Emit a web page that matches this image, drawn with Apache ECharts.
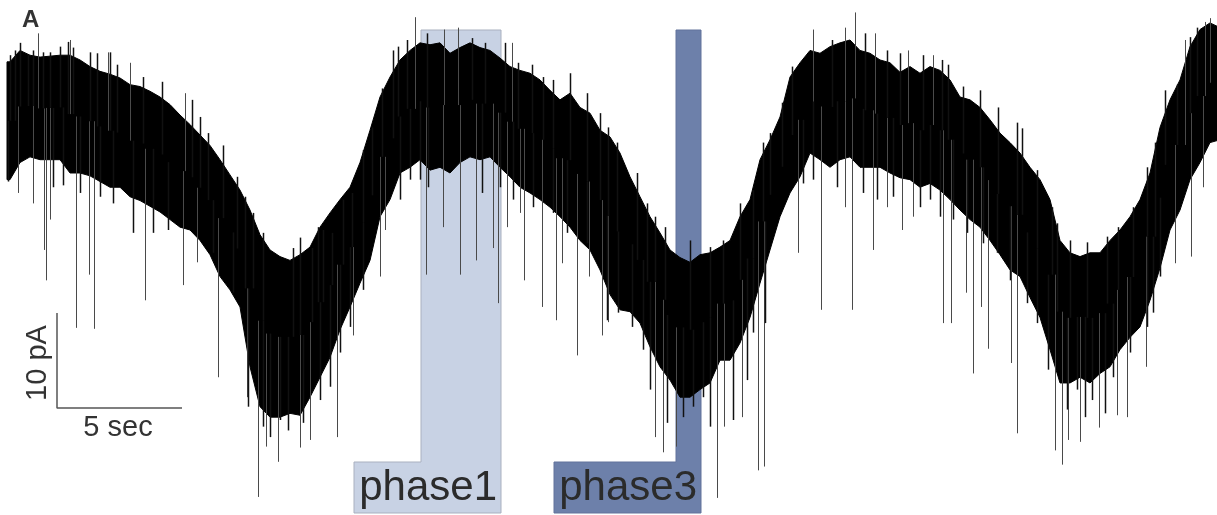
<!DOCTYPE html>
<html><head><meta charset="utf-8">
<script src="https://cdn.jsdelivr.net/npm/echarts@6/dist/echarts.min.js"></script>
<style>html,body{margin:0;padding:0;background:#fff}#c{width:1217px;height:515px}</style>
</head><body><div id="c"></div>
<script>
// Time of envelope samples (s)
const envTime = [-0.12,0,0.4,0.8,1.2,1.6,2,2.4,2.8,3.2,3.6,4,4.4,4.8,5.2,5.6,6,6.4,6.8,7.2,7.6,8,8.4,8.8,9.2,9.6,10,10.4,10.8,11.2,11.6,12,12.4,12.8,13.2,13.6,14,14.4,14.8,15.2,15.6,16,16.4,16.8,17.2,17.6,18,18.4,18.8,19.2,19.6,20,20.4,20.8,21.2,21.6,22,22.4,22.8,23.2,23.6,24,24.4,24.8,25.2,25.6,26,26.4,26.8,27.2,27.6,28,28.4,28.8,29.2,29.6,30,30.4,30.8,31.2,31.6,32,32.4,32.8,33.2,33.6,34,34.4,34.8,35.2,35.6,36,36.4,36.8,37.2,37.6,38,38.4,38.8,39.2,39.6,40,40.4,40.8,41.2,41.6,42,42.4,42.8,43.2,43.6,44,44.4,44.8,45.2,45.6,46,46.4,46.8,47.2,47.6,48,48.4];
// Upper edge of the dense noisy current band (pA)
const envHigh = [47.7,47.7,48.9,48.4,48.2,48.3,48.4,48.4,47.9,47.2,46.7,
46.4,46.0,45.3,45.1,44.6,44.0,43.2,42.1,41.1,40.0,
38.9,37.4,35.8,34.2,32.1,29.5,27.9,27.2,26.8,27.4,
28.2,30.3,31.8,33.2,34.5,37.1,40.5,44.0,46.1,47.9,
48.9,49.7,49.5,49.7,48.6,49.2,49.7,49.2,48.9,48.1,
47.2,46.8,46.5,45.8,44.7,43.7,44.4,42.9,42.3,40.5,
39.8,38.1,35.6,33.5,31.4,29.7,27.9,27.1,26.6,27.4,
27.6,28.2,28.9,31.4,33.2,37.4,39.5,41.9,46.1,47.6,
48.9,48.6,49.3,49.7,50.0,48.9,48.6,47.9,47.6,46.6,
47.2,46.5,47.2,46.8,45.8,44.0,43.7,42.9,41.6,40.2,
39.2,38.1,36.6,35.3,33.2,28.9,27.6,27.2,27.6,27.6,
28.9,30.0,31.4,33.2,36.0,40.8,43.7,45.8,49.3,51.1,
51.8,51.3];
// Lower edge of the dense noisy current band (pA)
const envLow = [35.3,35.3,37.1,37.7,37.4,37.4,37.4,36.0,36.0,35.7,35.1,
34.5,34.5,33.5,33.1,32.5,31.9,31.1,30.3,30.0,28.9,
27.4,25.1,23.7,21.9,15.6,11.4,10.3,10.3,10.7,10.5,
12.4,14.5,16.6,19.5,21.9,24.4,26.8,31.4,33.2,36.0,
36.6,37.4,36.3,36.6,36.0,37.1,37.7,37.4,37.7,36.6,
35.6,34.5,33.9,33.2,32.4,31.4,30.3,28.9,27.9,25.8,
23.2,21.6,21.4,20.2,17.7,15.6,14.2,12.4,12.4,13.2,
13.9,16.3,16.3,18.1,20.8,24.4,27.9,31.4,33.9,35.6,
38.1,37.4,36.6,37.4,37.7,36.6,36.6,36.6,36.0,35.5,
35.3,34.5,34.9,34.2,33.2,32.1,31.1,30.3,28.9,27.4,
25.8,25.1,22.9,20.8,17.4,13.9,13.9,14.5,13.9,14.9,
15.6,17.4,18.7,19.8,22.6,26.0,30.0,32.1,35.3,37.1,
39.2,39.5];
// Long downward events: time (s) and tip current (pA)
const downTime = [0.32,0.92,1.36,1.44,1.6,2.64,3.16,3.36,5.4,6.92,7.48,8.32,9.48,9.92,10.24,10.72,11.6,12.0,13.08,13.72,14.8,15.0,16.64,17.32,18.0,18.64,19.32,19.52,19.88,20.4,20.56,21.28,21.84,22.08,22.68,23.16,23.68,23.92,25.8,26.12,26.64,28.28,28.56,29.28,29.92,30.16,31.52,32.44,33.4,33.68,34.52,35.08,35.68,36.12,37.32,37.64,38.24,38.52,38.84,39.12,40.04,40.28,41.8,42.08,42.32,42.8,43.56,44.28,44.68,45.44,46.6,47.24,47.72];
const downTip = [33.9,32.8,27.9,24.7,31.1,19.7,25.3,19.6,22.6,24.2,26.6,14.5,12.4,1.9,7.2,5.6,7.1,7.9,8.2,18.9,25.1,30.0,25.3,30.3,25.3,26.8,28.1,22.3,30.3,31.8,24.7,21.9,20.5,26.5,16.8,25.1,18.9,20.3,8.2,6.6,7.2,1.8,9.3,10.3,4.7,5.1,27.6,21.6,32.4,21.6,27.9,32.4,30.0,31.4,20.2,20.2,23.4,14.9,21.9,17.5,16.0,8.6,6.8,5.3,7.9,7.7,9.2,10.5,10.3,15.6,26.5,27.2,34.5];
// Long upward excursions: time (s) and tip current (pA)
const upTime = [1.12,2.4,3.92,4.8,7.0,16.2,17.36,17.92,20.08,32.12,33.4,33.8,34.6,35.92,36.92,47.0,47.8,48.0];
const upTip = [50.7,50.0,48.7,47.6,44.4,52.4,51.1,51.3,49.7,51.1,51.3,52.9,50.7,48.9,48.4,50.0,51.9,52.3];
// Short noise tips on the top edge of the band: time (s), current (pA)
const fringeUpTime = [0,0.2,0.4,0.72,0.92,1.32,1.6,2.0,2.32,2.52,3.2,3.48,4.0,4.28,5.32,6.08,7.28,7.6,7.92,8.52,9.08,9.4,9.72,10.12,11.32,11.6,12.08,12.32,12.52,12.88,13.32,13.68,14.12,14.48,14.88,15.32,15.52,15.88,16.68,18.48,19.0,19.8,20.32,20.88,21.32,21.72,22.4,23.08,23.6,23.92,24.28,25.08,25.48,25.8,26.2,27.2,28.0,28.52,29.2,29.72,30.12,30.4,30.88,31.28,32.88,34.2,35.08,35.6,36.52,37.28,37.52,38.12,38.8,39.52,40.28,40.48,41.08,41.68,41.88,42.4,43.08,43.88,44.32,44.92,45.48,45.8,46.2,46.68,47.2,47.48];
const fringeUpTip = [48.4,48.9,49.7,48.4,48.9,48.7,48.7,49.3,49.8,49.2,48.7,48.6,48.7,47.4,46.1,45.6,43.7,41.9,40.2,38.9,35.6,33.5,31.8,29.7,28.1,29.2,28.1,30.3,30.0,29.7,33.2,33.9,38.4,40.8,44.9,48.9,49.3,50.0,50.7,50.2,49.7,49.7,47.6,47.4,46.1,45.8,46.5,44.4,42.3,40.8,39.2,36.0,32.8,31.4,30.3,28.9,28.2,28.9,32.8,34.2,39.2,40.2,43.4,47.2,50.0,50.7,48.9,48.6,48.4,47.9,47.4,45.1,44.7,42.9,41.3,40.7,36.3,32.4,30.7,28.9,28.7,29.3,30.3,32.4,36.6,39.2,44.7,45.3,50.3,51.3];
// Short noise tips on the bottom edge of the band: time (s), current (pA)
const fringeDownTime = [-0.08,1.72,2.12,2.8,3.6,4.12,4.92,5.72,6.32,8.12,8.92,9.52,10.12,10.4,10.8,11.12,11.72,12.4,12.8,13.2,13.6,14.12,15.6,16.0,16.4,16.72,18.88,19.6,20.12,20.92,21.72,22.28,23.08,23.88,24.32,24.88,25.32,25.6,26.28,26.92,27.32,27.72,28.0,28.92,29.48,29.72,30.2,31.72,32.12,33.08,34.12,34.68,35.32,36.4,36.8,37.2,37.72,38.28,38.92,39.48,40.0,40.68,41.08,41.52,42.28,42.68,43.0,43.28,43.8,44.12,44.8,45.48,45.72,46.0];
const fringeDownTip = [35.1,34.5,34.7,33.9,33.5,32.8,29.7,29.7,30.0,27.6,23.4,11.4,9.3,8.2,10.0,8.9,9.7,12.1,13.5,17.1,19.8,23.7,33.2,35.3,35.3,34.5,33.9,34.5,33.2,32.4,31.8,29.7,28.6,20.5,21.3,19.8,17.4,13.2,9.7,10.3,11.4,12.4,9.3,10.0,14.2,19.2,20.2,34.9,35.3,34.5,33.9,33.2,33.5,32.4,33.2,31.4,31.1,29.7,28.6,27.6,24.7,22.3,20.2,15.3,11.1,13.2,10.3,12.1,10.7,14.5,17.1,19.8,21.3,25.1];
// Highlighted phases (s)
const phaseLabels = ['phase1','phase3'];
const phaseStart = [16.44, 26.64];
const phaseEnd = [19.64, 27.64];
// Scale bar
const scaleBarTime = 5, scaleBarCurrent = 10;
const scaleBarLabels = ['5 sec','10 pA'];
const panelLabel = 'A';

// ---- layout / styles ----
const FONT = '"Liberation Sans", Arial, Helvetica, sans-serif';
const phaseFill = ['#c8d2e4', '#6d80aa'];
const phaseStroke = ['#a9b0bf', '#62739b'];
const SB_T0 = 1.88, SB_Y0 = 11.26;

function bandMid(t){
  let best = 0, bd = Infinity;
  for (let i = 0; i < envTime.length; i++){ const d = Math.abs(envTime[i]-t); if (d < bd){ bd = d; best = i; } }
  return (envHigh[best] + envLow[best]) / 2;
}
const spikeData = downTime.map((t,i)=>[t, downTip[i], bandMid(t), 0])
  .concat(upTime.map((t,i)=>[t, upTip[i], bandMid(t), 0]))
  .concat(fringeUpTime.map((t,i)=>[t, fringeUpTip[i], bandMid(t), 1]))
  .concat(fringeDownTime.map((t,i)=>[t, fringeDownTip[i], bandMid(t), 1]));

const chart = echarts.init(document.getElementById('c'), null, {renderer:'canvas'});
chart.setOption({
  animation: false,
  backgroundColor: '#fff',
  grid: {left:0, right:0, top:0, bottom:0},
  xAxis: {type:'value', min:-0.4, max:48.28, show:false},
  yAxis: {type:'value', min:0, max:54.21, show:false},
  series: [
    {
      type:'custom', z:1, silent:true,
      data: phaseStart.map((s,i)=>[s, phaseEnd[i], i]),
      encode: {x:[0,1], y:2},
      renderItem: function(params, api){
        const i = api.value(2);
        const L = api.coord([api.value(0), 0])[0];
        const R = api.coord([api.value(1), 0])[0];
        const boxW = 147, top = 30, boxTop = 462, bottom = 513;
        return {
          type:'group',
          children: [
            {type:'polygon', shape:{points:[[L,top],[R,top],[R,bottom],[R-boxW,bottom],[R-boxW,boxTop],[L,boxTop]]},
             style:{fill: phaseFill[i], stroke: phaseStroke[i], lineWidth:1}},
            {type:'text', style:{text: phaseLabels[i], x: R-4, y: 488, align:'right', textAlign:'right',
              verticalAlign:'middle', textVerticalAlign:'middle', font: '42px ' + FONT, fill:'#2b2b2b'}}
          ]
        };
      }
    },
    {
      type:'custom', z:2, silent:true,
      data: [[0, 0]],
      renderItem: function(params, api){
        const pts = [];
        for (let i = 0; i < envTime.length; i++) pts.push(api.coord([envTime[i], envHigh[i]]));
        for (let i = envTime.length-1; i >= 0; i--) pts.push(api.coord([envTime[i], envLow[i]]));
        return {type:'polygon', shape:{points:pts}, style:{fill:'#000', stroke:'#000', lineWidth:1}};
      }
    },
    {
      type:'custom', z:3, silent:true,
      data: spikeData,
      encode: {x:0, y:1},
      renderItem: function(params, api){
        const a = api.coord([api.value(0), api.value(1)]);
        const b = api.coord([api.value(0), api.value(2)]);
        const x = Math.round(a[0]) + 0.5;
        const fringe = api.value(3) === 1;
        return {type:'line', shape:{x1:x, y1:a[1], x2:x, y2:b[1]},
          style:{stroke: fringe ? '#111' : '#4a4a4a', lineWidth: fringe ? 1.5 : 1}};
      }
    },
    {
      type:'line', z:4, silent:true, symbol:'none',
      data: [[SB_T0, SB_Y0 + scaleBarCurrent],[SB_T0, SB_Y0],[SB_T0 + scaleBarTime, SB_Y0]],
      lineStyle: {color:'#555', width:1.5}
    }
  ],
  graphic: [
    {type:'text', left:22, top:8, style:{text: panelLabel, font:'bold 24px ' + FONT, fill:'#333'}},
    {type:'text', x:118, y:428, style:{text: scaleBarLabels[0], align:'center', textAlign:'center', verticalAlign:'middle', textVerticalAlign:'middle', font:'29px ' + FONT, fill:'#333'}},
    {type:'text', x:38, y:363, rotation: Math.PI/2, style:{text: scaleBarLabels[1], align:'center', textAlign:'center', verticalAlign:'middle', textVerticalAlign:'middle', font:'29px ' + FONT, fill:'#333'}}
  ]
});
</script>
</body></html>
